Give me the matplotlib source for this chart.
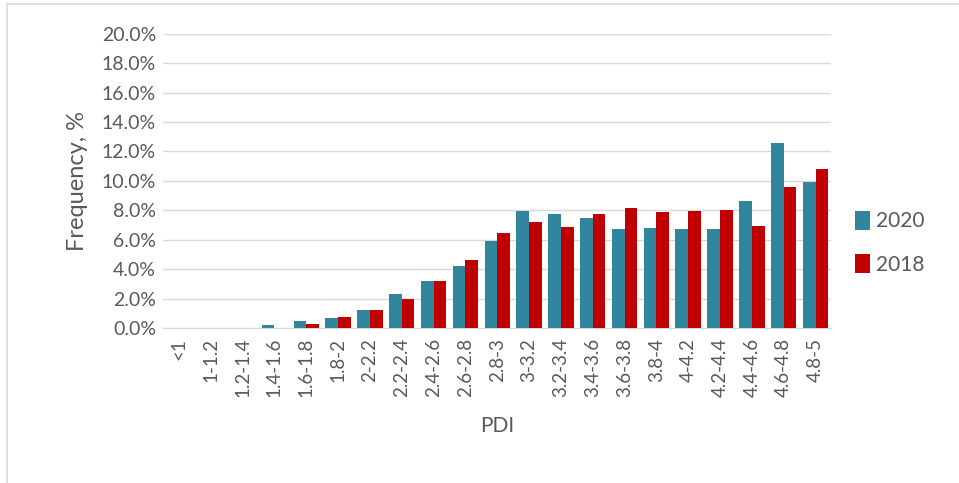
import matplotlib
matplotlib.use('Agg')
import matplotlib.pyplot as plt
import matplotlib.ticker as mticker
from matplotlib.patches import Rectangle
import numpy as np

plt.rcParams['font.family'] = ['Lato', 'DejaVu Sans']

# ========== DATA ==========
categories = ['<1', '1-1.2', '1.2-1.4', '1.4-1.6', '1.6-1.8', '1.8-2', '2-2.2', '2.2-2.4',
              '2.4-2.6', '2.6-2.8', '2.8-3', '3-3.2', '3.2-3.4', '3.4-3.6', '3.6-3.8',
              '3.8-4', '4-4.2', '4.2-4.4', '4.4-4.6', '4.6-4.8', '4.8-5']
freq_2020 = [0.0, 0.02, 0.03, 0.2, 0.5, 0.7, 1.2, 2.3, 3.2, 4.2, 5.9, 7.93, 7.73, 7.5,
             6.74, 6.77, 6.72, 6.7, 8.66, 12.6, 9.92]
freq_2018 = [0.0, 0.01, 0.03, 0.0, 0.25, 0.75, 1.2, 1.95, 3.2, 4.65, 6.45, 7.22, 6.86, 7.73,
             8.14, 7.86, 7.95, 8.02, 6.93, 9.58, 10.79]

teal = '#31859C'
red = '#C00000'
grey_txt = '#595959'

fig = plt.figure(figsize=(9.59, 4.83), dpi=100)
ax = fig.add_axes([0.170, 0.321, 0.697, 0.609])

x = np.arange(len(categories))
w = 0.4
ax.bar(x - w/2, freq_2020, w, color=teal, label='2020', zorder=3)
ax.bar(x + w/2, freq_2018, w, color=red, label='2018', zorder=3)

ax.set_xlim(-0.5, len(categories) - 0.5)
ax.set_ylim(0, 20)
ax.yaxis.set_major_locator(mticker.MultipleLocator(2))
ax.yaxis.set_major_formatter(mticker.FuncFormatter(lambda v, p: f'{v:.1f}%'))
ax.grid(axis='y', color='#D9D9D9', linewidth=1, zorder=0)
for s in ['top', 'right', 'left']:
    ax.spines[s].set_visible(False)
ax.spines['bottom'].set_color('#D9D9D9')
ax.tick_params(axis='y', length=0, labelsize=14, colors=grey_txt, pad=5)
ax.tick_params(axis='x', length=0, labelsize=13.5, colors=grey_txt, pad=7)
ax.set_xticks(x)
ax.set_xticklabels(categories, rotation=90)
ax.set_ylabel('Frequency, %', fontsize=17, color=grey_txt, labelpad=10)
ax.set_xlabel('PDI', fontsize=15, color=grey_txt, labelpad=14)

fig.legend(loc='center left', bbox_to_anchor=(0.872, 0.497), frameon=False,
           fontsize=15, labelcolor=grey_txt, handlelength=0.7, handleheight=1.0,
           handletextpad=0.3, labelspacing=1.1)

# outer frame
fig.patches.append(Rectangle((0.007, -0.01), 1.0, 1.002, transform=fig.transFigure,
                             fill=False, edgecolor='#D9D9D9', linewidth=1.2))

fig.savefig('out.png', dpi=100)
